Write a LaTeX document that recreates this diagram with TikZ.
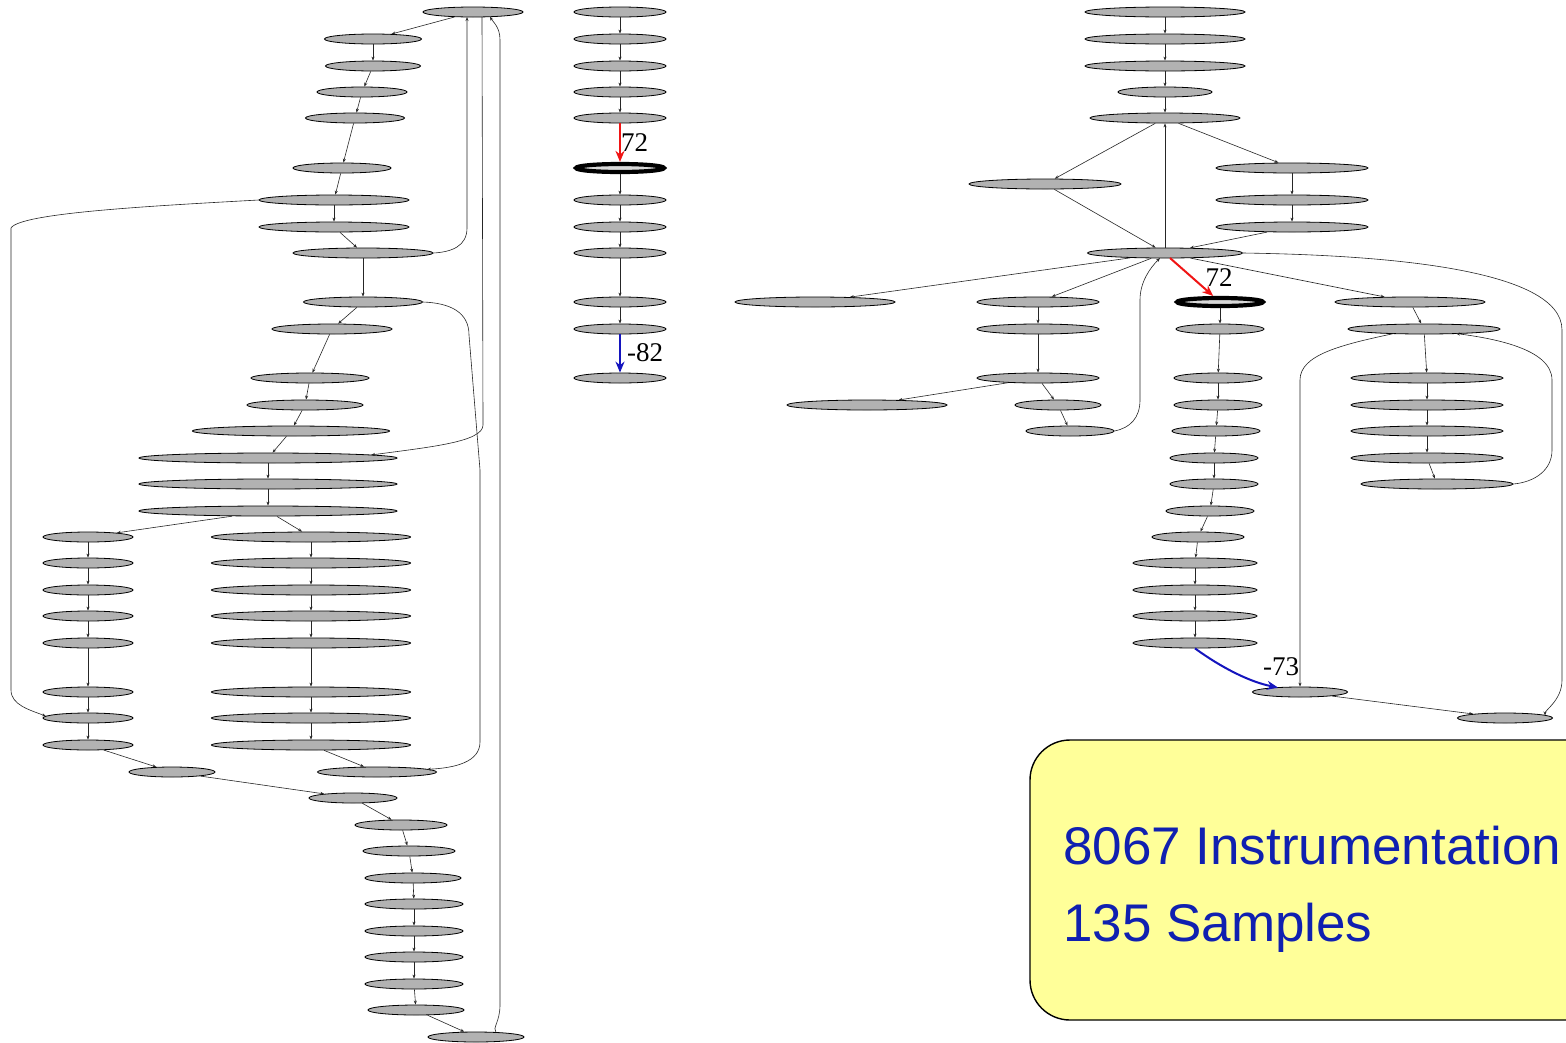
\documentclass[tikz,border=0pt]{standalone}
\usepackage{fontspec}
\setmainfont{Liberation Serif}
\newfontfamily\boxfont{Liberation Sans}
\usetikzlibrary{shapes.geometric,arrows.meta,calc}
\definecolor{nodegray}{RGB}{178,178,178}
\definecolor{boxyellow}{RGB}{255,255,153}
\definecolor{boxblue}{RGB}{16,32,176}
\definecolor{hotred}{RGB}{240,20,20}
\definecolor{coldblue}{RGB}{20,20,190}
\begin{document}
\begin{tikzpicture}[x=1pt,y=-1pt,
  fn/.style={ellipse, draw=black, line width=0.8pt, fill=nodegray, minimum width=#1, minimum height=10pt, inner sep=0pt},
  hn/.style={ellipse, draw=black, line width=4.2pt, fill=nodegray!50, minimum width=#1, minimum height=8pt, inner sep=0pt},
  e/.style={draw=black!85, line width=0.6pt, -{Stealth[length=4pt,width=3pt]}},
  hot/.style={draw=hotred, line width=2pt, -{Stealth[length=11pt,width=9pt]}},
  cold/.style={draw=coldblue, line width=2pt, -{Stealth[length=11pt,width=9pt]}},
  lab/.style={font=\fontsize{27}{27}\selectfont, inner sep=0pt}
]
\useasboundingbox (0,0) rectangle (1566,1042);
\clip (0,0) rectangle (1566,1042);
\fill[white] (0,0) rectangle (1566,1042);

% ---------------- left graph ----------------
\node[fn=100] (a0) at (473,12) {};
\node[fn=97]  (a1) at (373,39) {};
\node[fn=95]  (a2) at (373,66) {};
\node[fn=90]  (a3) at (362,92) {};
\node[fn=99]  (a4) at (355,118) {};
\node[fn=98]  (a5) at (342,168) {};
\node[fn=150] (a6) at (334,200) {};
\node[fn=150] (a7) at (334,227) {};
\node[fn=140] (a8) at (363,253) {};
\node[fn=119] (a9) at (363,302) {};
\node[fn=120] (a10) at (332,329) {};
\node[fn=118] (a11) at (310,378) {};
\node[fn=116] (a12) at (305,405) {};
\node[fn=197] (a13) at (291,431) {};
\node[fn=258] (a14) at (268,458) {};
\node[fn=258] (a15) at (268,484) {};
\node[fn=258] (a16) at (268,511) {};

\foreach \i/\y in {1/537,2/563,3/590,4/616,5/643,6/692,7/718,8/745}{
  \node[fn=90] (b\i) at (88,\y) {};
  \node[fn=199] (c\i) at (311,\y) {};
}
\node[fn=119] (c9) at (377,772) {};

\node[fn=86] (d1) at (172,772) {};
\node[fn=88] (d2) at (353,798) {};
\node[fn=92] (d3) at (401,825) {};
\node[fn=92] (d4) at (409,851) {};
\node[fn=96] (d5) at (413,878) {};
\node[fn=98] (d6) at (414,904) {};
\node[fn=98] (d7) at (414,931) {};
\node[fn=98] (d8) at (414,957) {};
\node[fn=98] (d9) at (414,984) {};
\node[fn=96] (d10) at (416,1010) {};
\node[fn=96] (d11) at (476,1037) {};

\draw[e] (a0) -- (a1);
\foreach \p/\q in {a1/a2,a2/a3,a3/a4,a4/a5,a5/a6,a6/a7,a7/a8,a8/a9,a9/a10,a10/a11,a11/a12,a12/a13,a13/a14,a14/a15,a15/a16,a16/b1,a16/c1,
  b1/b2,b2/b3,b3/b4,b4/b5,b5/b6,b6/b7,b7/b8,b8/d1,c1/c2,c2/c3,c3/c4,c4/c5,c5/c6,c6/c7,c7/c8,c8/c9,
  d1/d2,d2/d3,d3/d4,d4/d5,d5/d6,d6/d7,d7/d8,d8/d9,d9/d10,d10/d11}
  \draw[e] (\p) -- (\q);

% back edges and loops
\draw[e] (a8.east) .. controls (452,252) and (467,246) .. (467,228) -- ($(a0.center)+(-6,5)$);
\draw[e] ($(a0.center)+(9,5)$) -- (483,425) .. controls (483,442) and (430,447) .. ($(a14.center)+(103,-3)$);
\draw[e] ($(d11.center)+(20,-4.5)$) .. controls (492,1028) and (500,1022) .. (500,1005) -- (500,40) .. controls (500,27) and (493,22) .. ($(a0.center)+(17,4.7)$);
\draw[e] (a6.west) .. controls (150,206) and (20,213) .. (11,228) -- (11,690) .. controls (11,705) and (30,710) .. ($(b7.center)+(-42,-1.8)$);
\draw[e] (a9.east) .. controls (450,303) and (469,312) .. (469,335) -- (480,470) -- (480,742) .. controls (480,762) and (455,768) .. ($(c9.center)+(50,-2.7)$);

% ---------------- middle chain ----------------
\foreach \i/\y in {0/12,1/39,2/66,3/92,4/118,6/200,7/227,8/253,9/302,10/329,11/378}{
  \node[fn=92] (m\i) at (620,\y) {};
}
\node[hn=88] (m5) at (620,168) {};
\foreach \p/\q in {m0/m1,m1/m2,m2/m3,m3/m4,m5/m6,m6/m7,m7/m8,m8/m9,m9/m10}
  \draw[e] (\p) -- (\q);
\draw[hot] (m4) -- (m5);
\node[lab, anchor=west] (l72a) at (621,143) {72};
\draw[cold] (m10) -- (m11);
\node[lab, anchor=west] (l82) at (627,353) {-82};

% ---------------- right graph ----------------
\node[fn=160] (r0) at (1165,12) {};
\node[fn=160] (r1) at (1165,39) {};
\node[fn=160] (r2) at (1165,66) {};
\node[fn=94]  (r3) at (1165,92) {};
\node[fn=150] (r4) at (1165,118) {};
\node[fn=152] (r5) at (1045,184) {};
\node[fn=152] (r6) at (1292,168) {};
\node[fn=152] (r7) at (1292,200) {};
\node[fn=152] (r8) at (1292,227) {};
\node[fn=155] (r9) at (1165,253) {};
\node[fn=160] (r10) at (815,302) {};
\node[fn=122] (r11) at (1038,302) {};
\node[hn=86]  (r12) at (1220,302) {};
\node[fn=150] (r13) at (1410,302) {};
\node[fn=122] (r14) at (1038,329) {};
\node[fn=122] (r15) at (1038,378) {};
\node[fn=160] (r16) at (867,405) {};
\node[fn=86]  (r17) at (1058,405) {};
\node[fn=88]  (r18) at (1070,431) {};

\node[fn=88] (s0) at (1220,329) {};
\node[fn=88] (s1) at (1218,378) {};
\node[fn=88] (s2) at (1218,405) {};
\node[fn=88] (s3) at (1216,431) {};
\node[fn=88] (s4) at (1214,458) {};
\node[fn=88] (s5) at (1214,484) {};
\node[fn=88] (s6) at (1210,511) {};
\node[fn=92] (s7) at (1198,537) {};
\node[fn=124] (s8) at (1195,563) {};
\node[fn=124] (s9) at (1195,590) {};
\node[fn=124] (s10) at (1195,616) {};
\node[fn=124] (s11) at (1195,643) {};
\node[fn=95] (t0) at (1300,692) {};
\node[fn=95] (t1) at (1505,718) {};

\node[fn=152] (u0) at (1424,329) {};
\node[fn=152] (u1) at (1427,378) {};
\node[fn=152] (u2) at (1427,405) {};
\node[fn=152] (u3) at (1427,431) {};
\node[fn=152] (u4) at (1427,458) {};
\node[fn=152] (u5) at (1437,484) {};

\foreach \p/\q in {r0/r1,r1/r2,r2/r3,r3/r4,r9/r4,r4/r5,r4/r6,r5/r9,r6/r7,r7/r8,r8/r9,
  r9/r10,r9/r11,r9/r13,r11/r14,r14/r15,r15/r16,r15/r17,r17/r18,
  r12/s0,s0/s1,s1/s2,s2/s3,s3/s4,s4/s5,s5/s6,s6/s7,s7/s8,s8/s9,s9/s10,s10/s11,
  t0/t1,r13/u0,u0/u1,u1/u2,u2/u3,u3/u4,u4/u5}
  \draw[e] (\p) -- (\q);

\draw[e] (r18.east) .. controls (1130,428) and (1140,418) .. (1140,400) -- (1140,300) .. controls (1140,282) and (1150,268) .. ($(r9.center)+(-5,5)$);
\draw[e] (r9.east) .. controls (1380,255) and (1562,268) .. (1562,330) -- (1562,680) .. controls (1562,700) and (1545,710) .. ($(t1.center)+(40,-2.5)$);
\draw[e] (u5.east) .. controls (1535,482) and (1552,470) .. (1552,450) -- (1552,380) .. controls (1552,348) and (1490,338) .. ($(u0.center)+(32,4.5)$);
\draw[e] ($(u0.center)+(-30,4.5)$) .. controls (1340,345) and (1300,355) .. (1300,380) -- (t0);

\draw[hot] ($(r9.center)+(5,5)$) -- (r12);
\node[lab] (l72b) at (1219,278) {72};
\draw[cold] (s11.south) .. controls (1222,668) and (1250,682) .. ($(t0.center)+(-22,-4.5)$);
\node[lab] (l73) at (1281,667) {-73};

% ---------------- info box ----------------
\draw[fill=boxyellow, draw=black, line width=1.4pt, rounded corners=40pt] (1030,740) rectangle (1720,1020);
\node[anchor=base west, inner sep=0pt, text=boxblue, font=\boxfont\fontsize{53}{60}\selectfont] (info1) at (1063,864) {8067 Instrumentation};
\node[anchor=base west, inner sep=0pt, text=boxblue, font=\boxfont\fontsize{53}{60}\selectfont] (info2) at (1063,941) {135 Samples};
\end{tikzpicture}
\end{document}
